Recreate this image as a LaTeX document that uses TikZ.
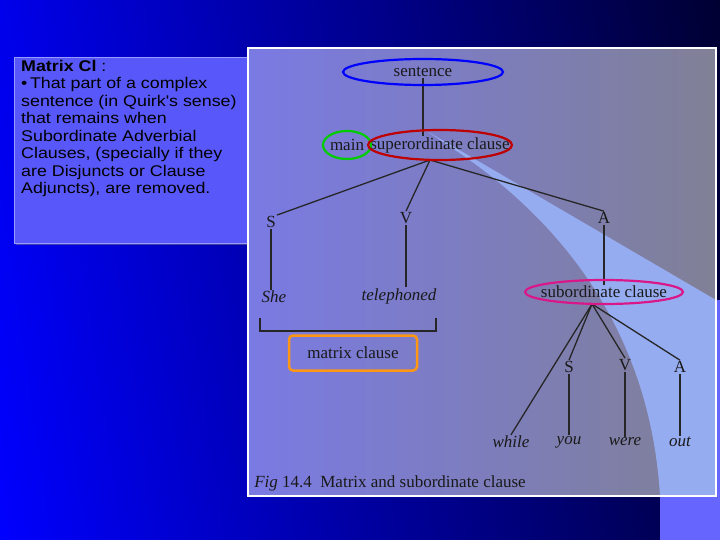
\documentclass[tikz,border=0pt]{standalone}
\usepackage{fontspec}
\setmainfont{Liberation Serif}
\newfontfamily\sansf[FakeStretch=1.15]{Liberation Sans}
\usetikzlibrary{shadows}
\definecolor{panL}{RGB}{122,122,228}
\definecolor{panR}{RGB}{128,128,150}
\definecolor{wedge}{RGB}{150,172,240}
\definecolor{orng}{RGB}{255,150,20}
\definecolor{boxf}{RGB}{88,88,250}
\begin{document}
\begin{tikzpicture}[x=1pt,y=-1pt,
  lab/.style={font=\fontsize{17}{17}\selectfont,text=black!90,inner sep=1pt},
  word/.style={font=\itshape\fontsize{17}{17}\selectfont,text=black!90,inner sep=1pt},
  br/.style={line width=1.3pt,black!85},
  ring/.style={line width=2.2pt}]
\useasboundingbox (0,0) rectangle (720,540);
\shade[top color=blue!60!black, bottom color=blue] (0,0) rectangle (720,540);
\shade[left color=blue, right color=blue!10!black, opacity=0.8] (0,0) rectangle (720,540);
\fill[blue!60!white] (660,300) rectangle (720,540);
% text box
\node[draw=blue!40!white, fill=boxf, drop shadow, minimum width=238, minimum height=186, anchor=north west, inner sep=0] (tb) at (14,57) {};
\node[anchor=north west, align=left, inner sep=0, font=\sansf\fontsize{15.5}{17.5}\selectfont] (tt) at (21,60)
{\textbf{Matrix Cl} :\\ \textbullet\,That part of a complex\\ sentence (in Quirk's sense)\\ that remains when\\ Subordinate Adverbial\\ Clauses, (specially if they\\ are Disjuncts or Clause\\ Adjuncts), are removed.};
% panel
\shade[left color=panL, right color=panR] (248,48) rectangle (716,496);
\fill[wedge] (425,130) -- (716,300) -- (716,496) -- (660,496) .. controls (650,330) and (560,220) .. (455,150) -- cycle;
\draw[white, line width=1.5pt] (248,48) rectangle (716,496);
% tree
\node[lab] (sent) at (423,72) {sentence};
\node[lab] (main) at (347,145) {main};
\node[lab] (sup) at (440,145) {superordinate clause};
\node[lab] (S) at (271,222) {S};
\node[lab] (V) at (406,218) {V};
\node[lab] (A) at (604,218) {A};
\node[word] (she) at (274,297) {She};
\node[word] (tel) at (399,296) {telephoned};
\node[lab] (sub) at (604,292) {subordinate clause};
\node[lab] (S2) at (569,367) {S};
\node[lab] (V2) at (625,365) {V};
\node[lab] (A2) at (680,367) {A};
\node[word] (wh) at (511,442) {while};
\node[word] (you) at (569,442) {you};
\node[word] (were) at (625,442) {were};
\node[word] (out) at (680,442) {out};
\node[lab] (cap) at (390,483) {\textit{Fig} 14.4\enspace Matrix and subordinate clause};
\node[lab, draw=orng, line width=2.5pt, rounded corners=4pt, minimum width=128, minimum height=35] (mc) at (353,353) {matrix clause};
\coordinate (sb) at (430,160);
\coordinate (ub) at (592,304);
\draw[br] (sent.south) -- (sup.north-|sent.south);
\draw[br] (sb) -- (S.north east);
\draw[br] (sb) -- (V.north);
\draw[br] (sb) -- (A.north);
\draw[br] (A.south) -- (sub.north);
\draw[br] (S.south) -- (she.north-|S.south);
\draw[br] (V.south) -- (tel.north-|V.south);
\draw[br] (ub) -- (wh.north);
\draw[br] (ub) -- (S2.north);
\draw[br] (ub) -- (V2.north);
\draw[br] (ub) -- (A2.north);
\draw[br] (S2.south) -- (you.north);
\draw[br] (V2.south) -- (were.north);
\draw[br] (A2.south) -- (out.north);
\coordinate (bl) at (260,318); \coordinate (brr) at (436,318);
\draw[br] (bl) -- ++(0,13) -| (brr);
% rings
\draw[ring, blue] (sent) ellipse [x radius=80, y radius=13];
\draw[ring, green!80!black] (main) ellipse [x radius=24, y radius=14];
\draw[ring, red!75!black] (sup) ellipse [x radius=72, y radius=15];
\draw[ring, magenta!80!violet] (sub) ellipse [x radius=79, y radius=12];
\end{tikzpicture}
\end{document}
